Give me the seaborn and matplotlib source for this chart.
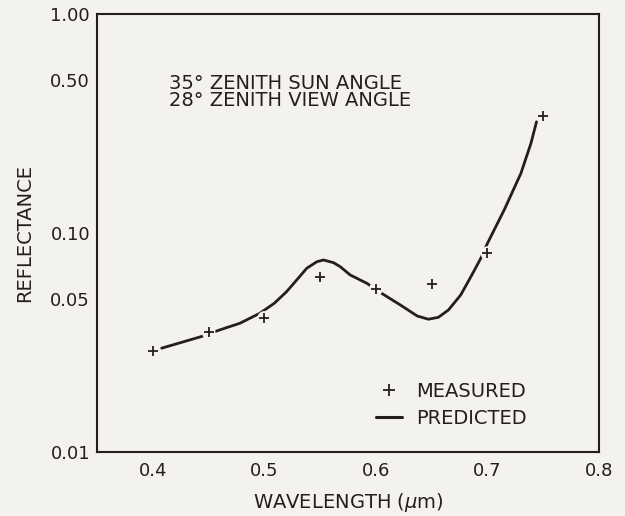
"""
Reflectance vs wavelength: measured points and predicted curve.
"""

import numpy as np
import pandas as pd
import matplotlib
matplotlib.use('Agg')
import matplotlib.pyplot as plt
from matplotlib.lines import Line2D
import seaborn as sns


# Measured reflectance
measured_wl = [0.40, 0.45, 0.50, 0.55, 0.60, 0.65, 0.70, 0.75]
measured_refl = [0.0289, 0.0353, 0.0409, 0.0631, 0.0555, 0.0583, 0.0808, 0.342]

# Predicted reflectance
predicted_wl = [0.408, 0.443, 0.460, 0.478, 0.496, 0.509, 0.520, 0.529, 0.538,
                0.547, 0.553, 0.562, 0.568, 0.577, 0.592, 0.605, 0.622, 0.637,
                0.647, 0.656, 0.665, 0.676, 0.686, 0.694, 0.700, 0.715, 0.730,
                0.739, 0.744]
predicted_refl = [0.0298, 0.0336, 0.0361, 0.0387, 0.0430, 0.0478, 0.0540, 0.0610,
                  0.0690, 0.0739, 0.0753, 0.0732, 0.0702, 0.0643, 0.0589, 0.0531,
                  0.0469, 0.0418, 0.0404, 0.0412, 0.0445, 0.0521, 0.0643, 0.0766,
                  0.0897, 0.1274, 0.1873, 0.2568, 0.322]

x_ticks = [0.4, 0.5, 0.6, 0.7, 0.8]
y_ticks = [0.01, 0.05, 0.10, 0.50, 1.00]
y_tick_labels = ['0.01', '0.05', '0.10', '0.50', '1.00']

sns.set_style('white')
plt.rcParams['font.family'] = ['DejaVu Sans']
plt.rcParams['font.size'] = 14

bg = '#f4f2ee'
ink = '#231f20'

measured = pd.DataFrame({'wl': measured_wl, 'refl': measured_refl})
predicted = pd.DataFrame({'wl': predicted_wl, 'refl': predicted_refl})

fig = plt.figure(figsize=(6.25, 5.16), dpi=100, facecolor=bg)
ax = fig.add_axes([0.1552, 0.124, 0.8032, 0.8489])
ax.set_facecolor(bg)

sns.lineplot(data=predicted, x='wl', y='refl', ax=ax, color=ink, linewidth=2.0,
             sort=False, zorder=2)
# small gaps in the curve around the measured crosses
sns.scatterplot(data=measured, x='wl', y='refl', ax=ax, marker='o', s=100,
                color=bg, edgecolor='none', zorder=3)
sns.scatterplot(data=measured, x='wl', y='refl', ax=ax, marker='+', s=55,
                color=ink, linewidth=1.3, zorder=4)

ax.set_yscale('log')
ax.set_xlim(0.35, 0.8)
ax.set_ylim(0.01, 1.0)
ax.set_xticks(x_ticks)
ax.set_xticklabels([f'{t:.1f}' for t in x_ticks])
ax.set_yticks(y_ticks)
ax.set_yticklabels(y_tick_labels)
ax.minorticks_off()
ax.tick_params(axis='both', direction='in', length=9, width=1.5, color=ink,
               labelcolor=ink, labelsize=13)
ax.tick_params(axis='y', pad=5)
ax.tick_params(axis='x', pad=7)

for spine in ax.spines.values():
    spine.set_visible(True)
    spine.set_color(ink)
    spine.set_linewidth(1.5)

ax.set_xlabel('WAVELENGTH ($\\mu$m)', fontsize=14, color=ink, labelpad=8)
ax.set_ylabel('REFLECTANCE', fontsize=14, color=ink, labelpad=12)

ax.text(0.143, 0.842, '35° ZENITH SUN ANGLE', transform=ax.transAxes,
        ha='left', va='center', fontsize=14, color=ink)
ax.text(0.143, 0.803, '28° ZENITH VIEW ANGLE', transform=ax.transAxes,
        ha='left', va='center', fontsize=14, color=ink)

handles = [
    Line2D([], [], marker='+', linestyle='none', color=ink, markersize=8,
           markeredgewidth=1.3),
    Line2D([], [], color=ink, linewidth=2.2),
]
ax.legend(handles, ['MEASURED', 'PREDICTED'], loc='lower left',
          bbox_to_anchor=(0.52, 0.016), frameon=False, fontsize=14,
          handlelength=1.34, handletextpad=0.77, labelspacing=0.4,
          labelcolor=ink)

plt.savefig('out.png', dpi=100, facecolor=bg)
plt.close()
